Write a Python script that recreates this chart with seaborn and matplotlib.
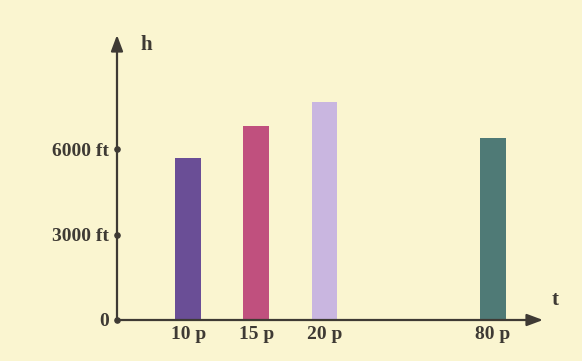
import numpy as np
import pandas as pd
import matplotlib
matplotlib.use("Agg")
import matplotlib.pyplot as plt
import seaborn as sns

# ---- data ----
times = [10, 15, 20, 80]                    # minutes
time_labels = ["10 p", "15 p", "20 p", "80 p"]
heights = [5700, 6800, 7650, 6400]          # height h
bar_colors = ["#6a4e96", "#c0507e", "#c9b6e0", "#4f7a76"]
ytick_values = [0, 3000, 6000]
ytick_labels = ["0", "3000 ft", "6000 ft"]

df = pd.DataFrame({"t": times, "h": heights, "label": time_labels})

# ---- style ----
BG = "#faf5d0"
INK = "#3e3a34"
sns.set_theme(style="white")
plt.rcParams["font.family"] = ["Liberation Serif", "DejaVu Serif"]

# broken time axis: linear up to 20 min, compressed afterwards
BREAK_AT = 20.0
COMPRESS = 0.206

def fwd(t):
    t = np.asarray(t, dtype=float)
    return np.where(t <= BREAK_AT, t, BREAK_AT + (t - BREAK_AT) * COMPRESS)

def inv(u):
    u = np.asarray(u, dtype=float)
    return np.where(u <= BREAK_AT, u, BREAK_AT + (u - BREAK_AT) / COMPRESS)

fig = plt.figure(figsize=(5.82, 3.61), dpi=100, facecolor=BG)
ax = fig.add_axes([117 / 582, 41 / 361, 426 / 582, 285 / 361])
ax.set_facecolor(BG)
ax.set_xscale("function", functions=(fwd, inv))

sns.barplot(data=df, x="t", y="h", hue="label", palette=bar_colors,
            native_scale=True, width=0.38, legend=False, ax=ax,
            saturation=1, linewidth=0)

ax.set_xlim(4.78, float(inv(36.03)))
ax.set_ylim(0, 10000)
ax.set_xlabel("")
ax.set_ylabel("")

for s in ax.spines.values():
    s.set_visible(False)

# axes with arrows
arrow = dict(arrowstyle="-|>,head_length=0.8,head_width=0.3", color=INK, lw=1.6,
             shrinkA=0, shrinkB=0)
ax.annotate("", xy=(0, 1), xytext=(0, 0), xycoords="axes fraction", arrowprops=arrow)
ax.annotate("", xy=(1, 0), xytext=(0, 0), xycoords="axes fraction", arrowprops=arrow)
ax.text(0.068, 0.965, "h", transform=ax.transAxes, fontsize=15, fontweight="bold",
        color=INK, ha="center", va="center")
ax.text(1.028, 0.07, "t", transform=ax.transAxes, fontsize=15, fontweight="bold",
        color=INK, ha="center", va="center")

# ticks
ax.set_xticks(times)
ax.set_xticklabels(time_labels)
ax.set_yticks(ytick_values)
ax.set_yticklabels(ytick_labels)
ax.tick_params(axis="x", length=0, pad=4, labelsize=14, labelcolor=INK)
ax.tick_params(axis="y", length=0, pad=6, labelsize=14, labelcolor=INK)
for lab in ax.get_xticklabels() + ax.get_yticklabels():
    lab.set_fontweight("bold")
ax.xaxis.set_minor_locator(matplotlib.ticker.NullLocator())

# tick dots on the vertical axis
ax.scatter([0] * len(ytick_values), ytick_values, s=14, color=INK,
           transform=ax.get_yaxis_transform(), clip_on=False, zorder=5)

fig.savefig("out.png", dpi=100, facecolor=BG)
